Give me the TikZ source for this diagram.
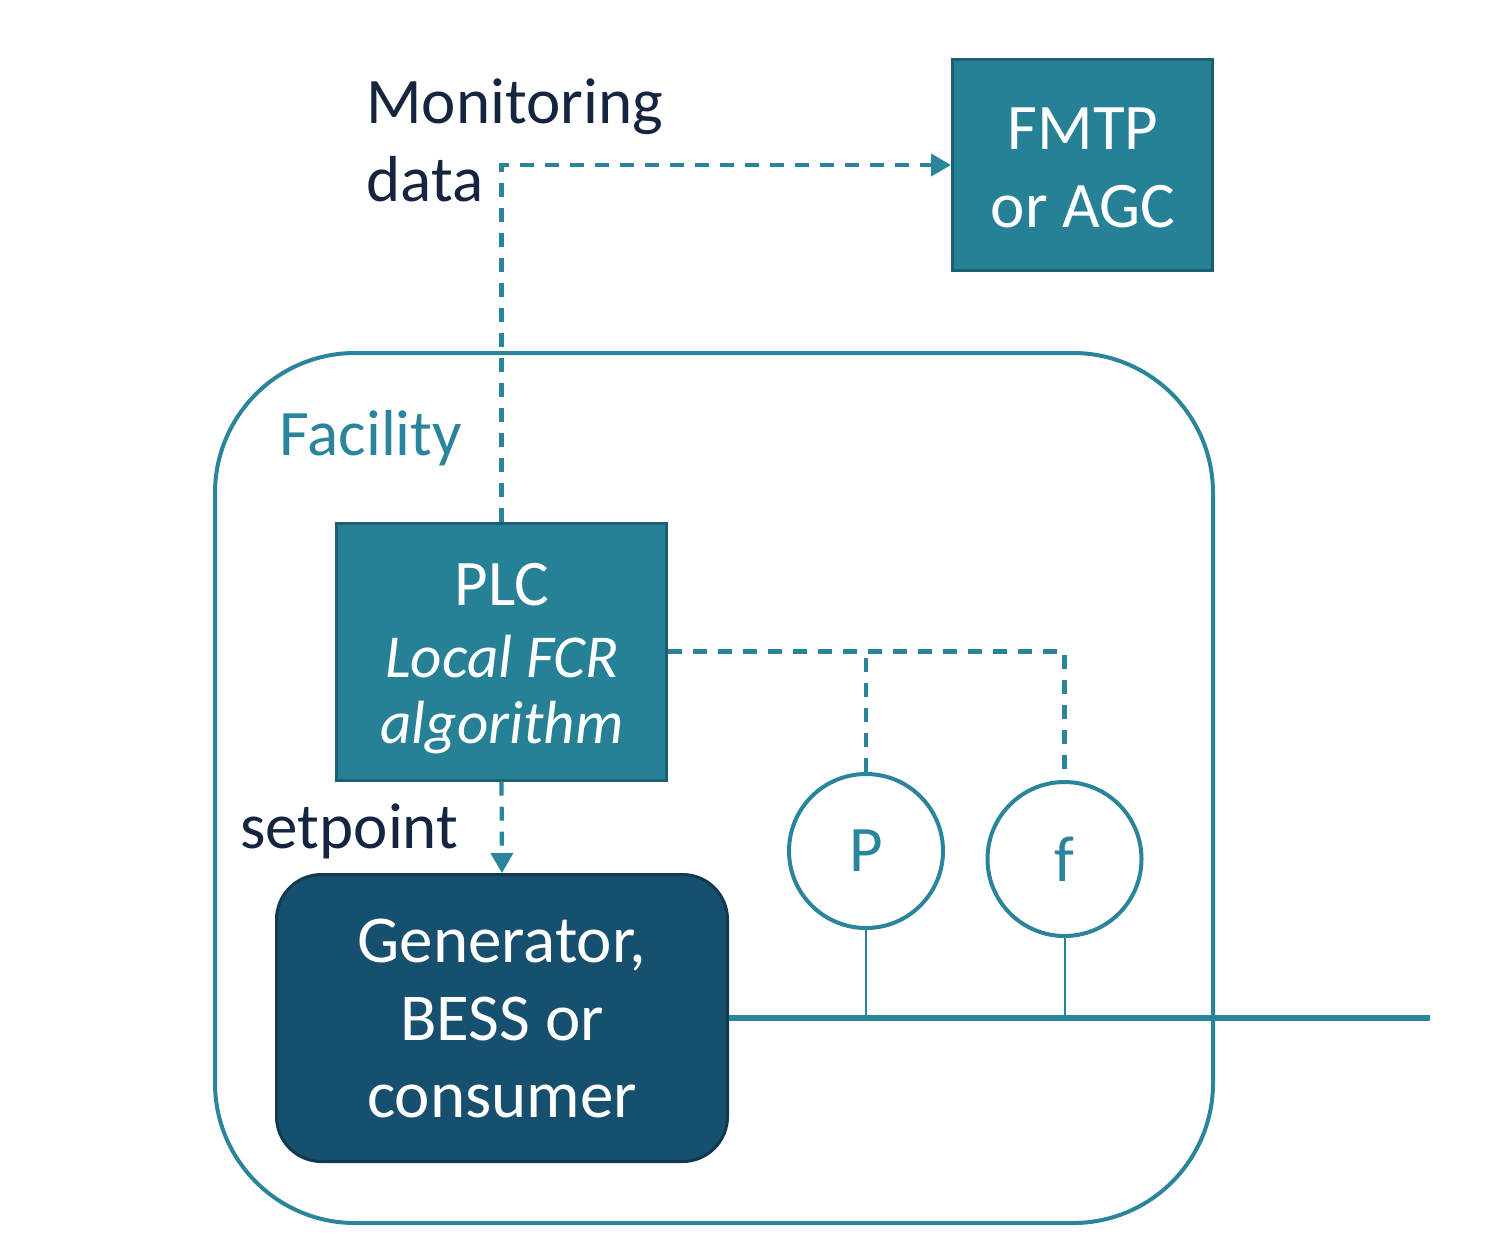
\documentclass[tikz,border=0pt]{standalone}
\usepackage{fontspec}
\setmainfont{Carlito}
\usetikzlibrary{arrows.meta}
\definecolor{teal1}{HTML}{268096}
\definecolor{tealdark}{HTML}{1C5F70}
\definecolor{navyfill}{HTML}{16506E}
\definecolor{navyborder}{HTML}{0F3A52}
\definecolor{textnavy}{HTML}{15243F}
\definecolor{facteal}{HTML}{2A849C}
\tikzset{
  bigtext/.style={font=\fontsize{32.5}{39.5}\selectfont, inner sep=0pt},
  gentext/.style={font=\fontsize{33.5}{39.5}\selectfont, inner sep=0pt, text=white},
  ittext/.style={font=\fontsize{30.5}{39.5}\selectfont\itshape, inner sep=0pt, text=white},
  tealbox/.style={draw=tealdark, fill=teal1, line width=1.5pt, rectangle, inner sep=0pt},
  genbox/.style={draw=navyborder, fill=navyfill, line width=1.5pt, rectangle, rounded corners=22.5pt, inner sep=0pt},
  sensor/.style={circle, draw=facteal, line width=2pt, minimum size=77pt, inner sep=0pt, text=facteal, font=\fontsize{32.5}{39.5}\selectfont},
  dashline/.style={draw=facteal, line width=2.1pt, dash pattern=on 7pt off 5.5pt},
  arrowtip/.style={-{Triangle[length=10pt, width=11pt]}},
  busline/.style={draw=facteal, line width=3pt},
  thinline/.style={draw=facteal, line width=1pt},
  wtext/.style={bigtext, text=white},
}
\begin{document}
\begin{tikzpicture}[x=0.5pt, y=-0.5pt]
\useasboundingbox (0,0) rectangle (1498,1244);
% facility outline
\draw[draw=facteal, line width=2pt, rounded corners=70pt] (215,353) rectangle (1213,1223);
\node[bigtext, text=facteal, anchor=base west] (faclabel) at (279,455) {Facility};
% boxes
\node[tealbox, minimum width=130pt, minimum height=105.5pt] (fmtp) at (1082.5,165) {};
\node[wtext, anchor=base] (fmtp1) at (1083,149) {FMTP};
\node[wtext, anchor=base] (fmtp2) at (1083,227) {or AGC};
\node[tealbox, minimum width=165pt, minimum height=128.5pt] (plc) at (501.5,651.5) {};
\node[wtext, anchor=base] (plc1) at (502,605) {PLC};
\node[ittext, anchor=base] (plc2) at (502,677) {Local FCR};
\node[ittext, anchor=base] (plc3) at (502,743) {algorithm};
\node[genbox, minimum width=225.5pt, minimum height=143.5pt] (gen) at (502,1018) {};
\node[gentext, anchor=base] (gen1) at (502,962) {Generator,};
\node[gentext, anchor=base] (gen2) at (502,1040) {BESS or};
\node[gentext, anchor=base] (gen3) at (502,1117) {consumer};
% sensors
\node[sensor] (p) at (866,851) {P};
\node[sensor] (f) at (1064.5,859) {f};
% labels
\node[bigtext, text=textnavy, anchor=base west] (mon1) at (366,123) {Monitoring};
\node[bigtext, text=textnavy, anchor=base west] (mon2) at (366,201) {data};
\node[bigtext, text=textnavy, anchor=base west] (setp) at (240,848) {setpoint};
% bus
\coordinate (busend) at (1430,1018);
\draw[busline] (gen.east) -- (busend);
\draw[thinline] (p.south) -- (p.south |- gen.east);
\draw[thinline] (f.south) -- (f.south |- gen.east);
% dashed connectors
\draw[dashline, arrowtip] (plc.north) |- (fmtp.west);
\draw[dashline, arrowtip] (plc.south) -- (gen.north);
\draw[dashline] (plc.east) -| (f.north);
\draw[dashline] (p.north) -- (p.north |- plc.east);
\end{tikzpicture}
\end{document}
